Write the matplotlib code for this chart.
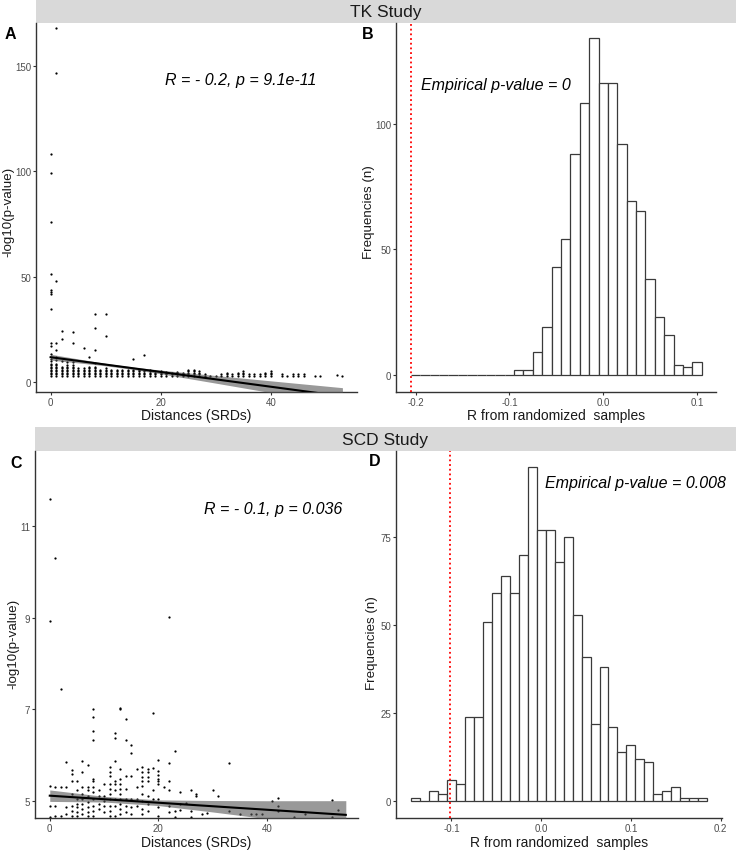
import numpy as np
import matplotlib
matplotlib.use("Agg")
import matplotlib.pyplot as plt
from matplotlib.patches import Rectangle

plt.rcParams['font.family'] = ['Liberation Sans', 'DejaVu Sans']
plt.rcParams['axes.unicode_minus'] = False

# ---------------- data ----------------
# Panel A (TK study): distance (SRDs) columns and -log10(p) values
tk_col_x = [0, 1, 2, 3, 4, 5, 6, 7, 8, 9, 10, 11, 12, 13, 14, 15, 16, 17, 18, 19,
            20, 21, 22, 23, 24, 25, 26, 27, 28, 29, 30, 31, 32, 33, 34, 35, 36, 37,
            38, 39, 40, 42, 43, 44, 45, 46, 48, 49, 52, 53]
tk_col_y = [
    [3.1, 3.8, 4.5, 5.2, 5.9, 6.6, 7.3, 8.0, 8.7, 10.2, 11.0, 13.6, 17.3, 18.6, 34.6,
     42.0, 43.0, 43.9, 51.5, 76.1, 99.2, 108.0],
    [3.1, 3.8, 4.5, 5.2, 5.9, 6.6, 7.3, 8.0, 8.7, 10.5, 12.2, 15.5, 18.6, 48.0, 146.6, 167.8],
    [3.1, 3.8, 4.5, 5.2, 5.9, 6.6, 7.3, 10.0, 20.5, 24.5],
    [3.1, 3.8, 4.5, 5.2, 5.9, 6.6, 7.3, 8.0, 9.5],
    [3.1, 3.8, 4.5, 5.2, 5.9, 6.6, 7.3, 8.0, 9.8, 18.8, 24.0],
    [3.1, 3.8, 4.5, 5.2, 5.9, 6.6],
    [3.1, 3.8, 4.5, 5.2, 5.9, 6.6, 16.1],
    [3.1, 3.8, 4.5, 5.2, 5.9, 6.6, 7.3, 12.2],
    [3.1, 3.8, 4.5, 5.2, 5.9, 6.6, 7.3, 9.0, 15.5, 25.6, 32.4],
    [3.1, 3.8, 4.5, 5.2, 5.9],
    [3.1, 3.8, 4.5, 5.2, 5.9, 6.6, 21.8, 32.4],
    [3.1, 3.8, 4.5, 5.2, 5.9],
    [3.1, 3.8, 4.5, 5.2, 5.7],
    [3.1, 3.8, 4.5, 5.2, 5.9],
    [3.1, 3.8, 4.5, 5.2, 5.9],
    [3.1, 3.8, 4.5, 5.2, 5.9, 10.9],
    [3.1, 3.8, 4.5, 5.2, 5.9],
    [3.1, 3.8, 4.5, 5.2, 12.8],
    [3.1, 3.8, 4.5, 5.2, 5.7],
    [3.1, 3.8, 4.5, 5.2],
    [3.1, 3.8, 4.5, 5.2],
    [3.1, 3.8, 4.5, 5.0],
    [3.1, 3.8, 4.5],
    [3.1, 3.8, 4.5, 5.0],
    [3.1, 3.8, 4.4],
    [3.1, 3.8, 4.5, 5.2, 5.9],
    [3.1, 3.8, 4.5, 5.2, 5.9],
    [3.1, 3.8, 4.5, 5.2],
    [3.1, 3.7],
    [3.1],
    [3.1],
    [3.1, 3.8],
    [3.1, 3.8, 4.5],
    [3.1, 3.8],
    [3.1, 3.8, 4.5],
    [3.1, 3.8, 4.5, 5.2],
    [3.1, 3.7],
    [3.1, 3.8],
    [3.1, 3.8],
    [3.1, 3.8, 4.5],
    [3.1, 3.8, 4.5, 5.2],
    [3.1, 3.8],
    [3.1],
    [3.1, 3.8],
    [3.1, 3.8],
    [3.1, 3.8],
    [3.1],
    [3.1],
    [3.4],
    [3.1],
]
tk_fit_x = [0, 53]
tk_fit_y = [11.9, -6.65]
tk_band_x = [0, 5, 10, 15, 20, 30, 40, 53]
tk_band_hw = [1.4, 0.94, 0.58, 0.55, 0.88, 1.8, 2.79, 4.1]
tk_label = "R = - 0.2, p = 9.1e-11"

# Panel B (TK study): histogram of R from randomized samples
tk_hist_start = -0.205
tk_hist_width = 0.01
tk_hist_counts = [0, 0, 0, 0, 0, 0, 0, 0, 0, 0, 0,
                  2, 2, 9, 19, 43, 54, 88, 108, 134, 116, 116, 92, 69, 65, 38, 23, 16, 4, 3, 5]
tk_observed_r = -0.2052
tk_emp_label = "Empirical p-value = 0"

# Panel C (SCD study)
scd_col_x = [0, 1, 2, 3, 4, 5, 6, 7, 8, 9, 10, 11, 12, 13, 14, 15, 16, 17, 18, 19,
             20, 21, 22, 23, 24, 25, 26, 27, 28, 29, 30, 31, 33, 35, 37, 38, 39, 41,
             42, 45, 47, 52, 53]
scd_col_y = [
    [4.66, 4.90, 5.33, 8.94, 11.59],
    [4.68, 4.88, 5.30, 10.30],
    [4.68, 5.30, 7.44],
    [4.72, 4.86, 5.30, 5.85],
    [4.68, 4.79, 4.90, 5.16, 5.44, 5.60, 5.68],
    [4.68, 4.75, 4.86, 4.93, 5.04, 5.23, 5.44],
    [4.72, 4.83, 4.93, 5.04, 5.16, 5.30, 5.63, 5.87],
    [4.68, 4.75, 4.86, 4.97, 5.12, 5.23, 5.30, 5.79],
    [4.68, 4.79, 4.90, 5.04, 5.20, 5.30, 5.44, 5.48, 6.34, 6.52, 6.84, 7.00],
    [4.83, 4.93, 5.12, 5.23],
    [4.75, 4.90, 5.01, 5.12, 5.37],
    [4.68, 4.79, 4.90, 5.04, 5.16, 5.26, 5.37, 5.55, 5.64, 5.75],
    [4.68, 4.90, 5.04, 5.23, 5.37, 5.44, 5.88, 6.38, 6.49],
    [4.72, 4.83, 4.93, 5.04, 5.16, 5.26, 5.37, 5.48, 5.70, 7.01, 7.04],
    [4.75, 4.90, 5.04, 5.26, 5.55, 6.34, 6.80],
    [4.72, 4.86, 5.04, 5.55, 6.05, 6.22],
    [4.90, 5.04, 5.30, 5.70],
    [4.72, 4.83, 5.01, 5.16, 5.33, 5.44, 5.52, 5.63, 5.74],
    [4.79, 4.93, 5.12, 5.44, 5.52, 5.63, 5.70],
    [5.04, 5.23, 5.72, 6.93],
    [4.68, 4.86, 5.04, 5.37, 5.44, 5.49, 5.57, 5.65, 5.90],
    [5.30],
    [4.75, 4.90, 5.23, 5.44, 5.83, 9.03],
    [4.66, 4.78, 6.10],
    [4.80, 4.93, 5.20],
    [4.95],
    [4.66, 4.78, 5.25],
    [5.11, 5.16],
    [4.72],
    [4.73],
    [5.25],
    [5.11],
    [4.78, 5.83],
    [4.71],
    [4.71],
    [4.71],
    [4.71],
    [5.00],
    [4.78, 4.90, 5.07],
    [4.66],
    [4.71],
    [4.66, 5.03],
    [4.81],
]
scd_fit_x = [0, 54.5]
scd_fit_y = [5.116, 4.697]
scd_band_x = [0, 10, 20, 30, 40, 54.5]
scd_band_hw = [0.125, 0.062, 0.062, 0.125, 0.197, 0.31]
scd_label = "R = - 0.1, p = 0.036"

# Panel D (SCD study): histogram
scd_hist_start = -0.145
scd_hist_width = 0.01
scd_hist_counts = [1, 0, 3, 2, 6, 5, 24, 24, 51, 59, 64, 59, 70, 95, 77, 77, 68, 75,
                   53, 41, 22, 38, 21, 14, 16, 12, 11, 2, 3, 4, 1, 1, 1]
scd_observed_r = -0.102
scd_emp_label = "Empirical p-value = 0.008"

strip_titles = ["TK Study", "SCD Study"]
panel_letters = ["A", "B", "C", "D"]
x_label_scatter = "Distances (SRDs)"
y_label_scatter = "-log10(p-value)"
x_label_hist = "R from randomized  samples"
y_label_hist = "Frequencies (n)"

# ---------------- figure ----------------
W, H = 736, 854
fig = plt.figure(figsize=(W / 100, H / 100), dpi=100)
fig.patch.set_facecolor("white")


def axes_px(x0, y0, x1, y1):
    return fig.add_axes([x0 / W, 1 - y1 / H, (x1 - x0) / W, (y1 - y0) / H])


def style(ax):
    for s in ["top", "right"]:
        ax.spines[s].set_visible(False)
    for s in ["left", "bottom"]:
        ax.spines[s].set_color("#333333")
        ax.spines[s].set_linewidth(1.0)
    ax.tick_params(length=2.3, width=0.8, color="#333333", labelsize=7,
                   labelcolor="#4d4d4d", pad=1.2)
    ax.set_facecolor("white")


def set_labels(ax, xl, yl, xy, yx, yy=0.5):
    ax.set_xlabel(xl, fontsize=10, color="#1a1a1a")
    ax.set_ylabel(yl, fontsize=9.6, color="#1a1a1a")
    ax.xaxis.set_label_coords(0.5, xy)
    ax.yaxis.set_label_coords(yx, yy)
    ax.xaxis.label.set_verticalalignment("center")
    ax.yaxis.label.set_verticalalignment("center")


def scatter_panel(ax, col_x, col_y, fit_x, fit_y, band_x, band_hw):
    xs, ys = [], []
    for cx, cy in zip(col_x, col_y):
        xs.extend([cx] * len(cy))
        ys.extend(cy)
    ax.scatter(xs, ys, s=2.6, color="black", linewidths=0, zorder=2)
    bx = np.array(band_x, dtype=float)
    by = np.interp(bx, fit_x, fit_y)
    hw = np.array(band_hw)
    ax.fill_between(bx, by - hw, by + hw, color="#555555", alpha=0.6,
                    linewidth=0, zorder=3)
    ax.plot(fit_x, fit_y, color="black", linewidth=1.5, zorder=4)


def hist_panel(ax, start, width, counts, observed):
    lefts = start + width * np.arange(len(counts))
    ax.bar(lefts, counts, width=width, align="edge", color="white",
           edgecolor="#3a3a3a", linewidth=0.9, zorder=2)
    ax.axvline(observed, color="red", linestyle=(0, (1, 1.6)), linewidth=1.3, zorder=3)


# Strips
for (x0, y0, x1, y1), title in zip([(36, 0, 736, 24), (35, 428.3, 736, 452.3)], strip_titles):
    fig.add_artist(Rectangle((x0 / W, 1 - y1 / H), (x1 - x0) / W, (y1 - y0) / H,
                             transform=fig.transFigure, facecolor="#d9d9d9",
                             edgecolor="none", zorder=0))
    fig.text((x0 + x1) / 2 / W, 1 - (y0 + y1) / 2 / H, title, ha="center", va="center",
             fontsize=12.5, color="#1a1a1a")

# Panel A
axA = axes_px(36, 24, 357, 393)
style(axA)
scatter_panel(axA, tk_col_x, tk_col_y, tk_fit_x, tk_fit_y, tk_band_x, tk_band_hw)
axA.set_xlim(-2.65, 55.65)
axA.set_ylim(-4.6, 170.3)
axA.set_xticks([0, 20, 40])
axA.set_yticks([0, 50, 100, 150])
set_labels(axA, x_label_scatter, y_label_scatter, -0.062, -0.087, 0.49)

# Panel B
axB = axes_px(396.3, 24, 716.3, 392.7)
style(axB)
hist_panel(axB, tk_hist_start, tk_hist_width, tk_hist_counts, tk_observed_r)
axB.set_xlim(-0.2205, 0.1205)
axB.set_ylim(-6.7, 140)
axB.set_xticks([-0.2, -0.1, 0.0, 0.1])
axB.set_xticklabels(["-0.2", "-0.1", "0.0", "0.1"])
axB.set_yticks([0, 50, 100])
set_labels(axB, x_label_hist, y_label_hist, -0.062, -0.085, 0.49)

# Panel C
axC = axes_px(35, 452.3, 358.3, 818.7)
style(axC)
scatter_panel(axC, scd_col_x, scd_col_y, scd_fit_x, scd_fit_y, scd_band_x, scd_band_hw)
axC.set_xlim(-2.72, 56.8)
axC.set_ylim(4.635, 12.64)
axC.set_xticks([0, 20, 40])
axC.set_yticks([5, 7, 9, 11])
set_labels(axC, x_label_scatter, y_label_scatter, -0.067, -0.067, 0.478)

# Panel D
axD = axes_px(396.3, 452.3, 722, 818.7)
style(axD)
hist_panel(axD, scd_hist_start, scd_hist_width, scd_hist_counts, scd_observed_r)
axD.set_xlim(-0.1615, 0.2015)
axD.set_ylim(-4.7, 99.4)
axD.set_xticks([-0.1, 0.0, 0.1, 0.2])
axD.set_xticklabels(["-0.1", "0.0", "0.1", "0.2"])
axD.set_yticks([0, 25, 50, 75])
set_labels(axD, x_label_hist, y_label_hist, -0.067, -0.075, 0.478)

# Annotations
ann = [(240.8, 80, tk_label), (495.5, 85.3, tk_emp_label),
       (273.3, 509.3, scd_label), (635.8, 483.3, scd_emp_label)]
for x, y, t in ann:
    fig.text(x / W, 1 - y / H, t, ha="center", va="center", fontsize=11.5,
             style="italic", color="black")

# Panel letters
for (x, y), letter in zip([(10, 34.3), (368, 34.3), (16, 463), (375, 462)], panel_letters):
    fig.text(x / W, 1 - y / H, letter, ha="center", va="center", fontsize=11.5,
             fontweight="bold", color="black", zorder=10)

fig.savefig("out.png", dpi=100, facecolor="white")
